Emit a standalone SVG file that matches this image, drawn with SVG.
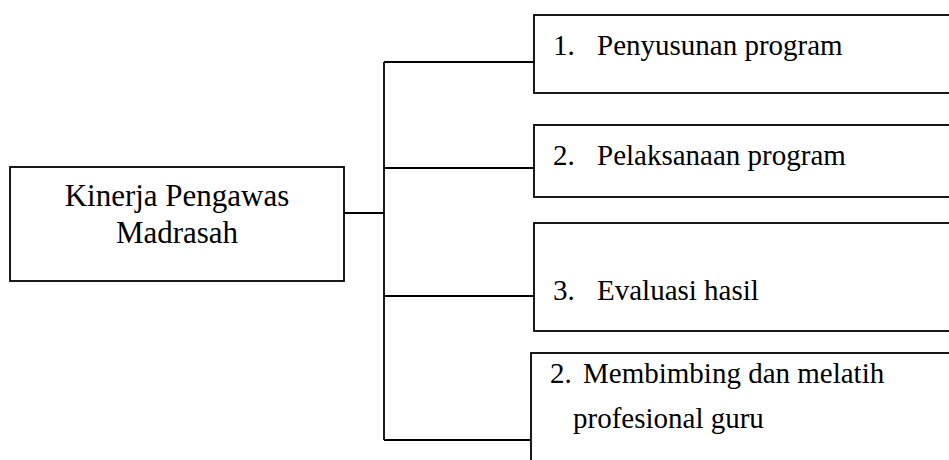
<svg xmlns="http://www.w3.org/2000/svg" width="949" height="460" viewBox="0 0 949 460">
<style>
.box{fill:#fff;stroke:#000;stroke-width:1.8}
.ln{fill:none;stroke:#000;stroke-width:1.8}
text{font-family:"Liberation Serif","Times New Roman",serif;font-size:29px;fill:#000}
.big{font-size:31px}
</style>
<rect width="949" height="460" fill="#fff"/>
<g id="connectors">
<polyline class="ln" points="344,213 384,213"/>
<polyline class="ln" points="384,62 384,440"/>
<polyline class="ln" points="384,62 534,62"/>
<polyline class="ln" points="384,168 534,168"/>
<polyline class="ln" points="384,296 534,296"/>
<polyline class="ln" points="384,440 531,440"/>
</g>
<g id="root">
<rect class="box" x="10" y="167" width="334" height="114"/>
<text class="big" x="177" y="206" text-anchor="middle">Kinerja Pengawas</text>
<text class="big" x="177" y="243" text-anchor="middle">Madrasah</text>
</g>
<g id="n1">
<rect class="box" x="534" y="15" width="430" height="78"/>
<text x="553" y="55">1.</text>
<text x="597" y="55">Penyusunan program</text>
</g>
<g id="n2">
<rect class="box" x="534" y="125" width="430" height="72"/>
<text x="553" y="165">2.</text>
<text x="597" y="165">Pelaksanaan program</text>
</g>
<g id="n3">
<rect class="box" x="534" y="223" width="430" height="108"/>
<text x="553" y="300">3.</text>
<text x="597" y="300">Evaluasi hasil</text>
</g>
<g id="n4">
<rect class="box" x="531" y="353" width="430" height="120"/>
<text x="550" y="383">2.</text>
<text x="583" y="383">Membimbing dan melatih</text>
<text x="573" y="428">profesional guru</text>
</g>
</svg>
